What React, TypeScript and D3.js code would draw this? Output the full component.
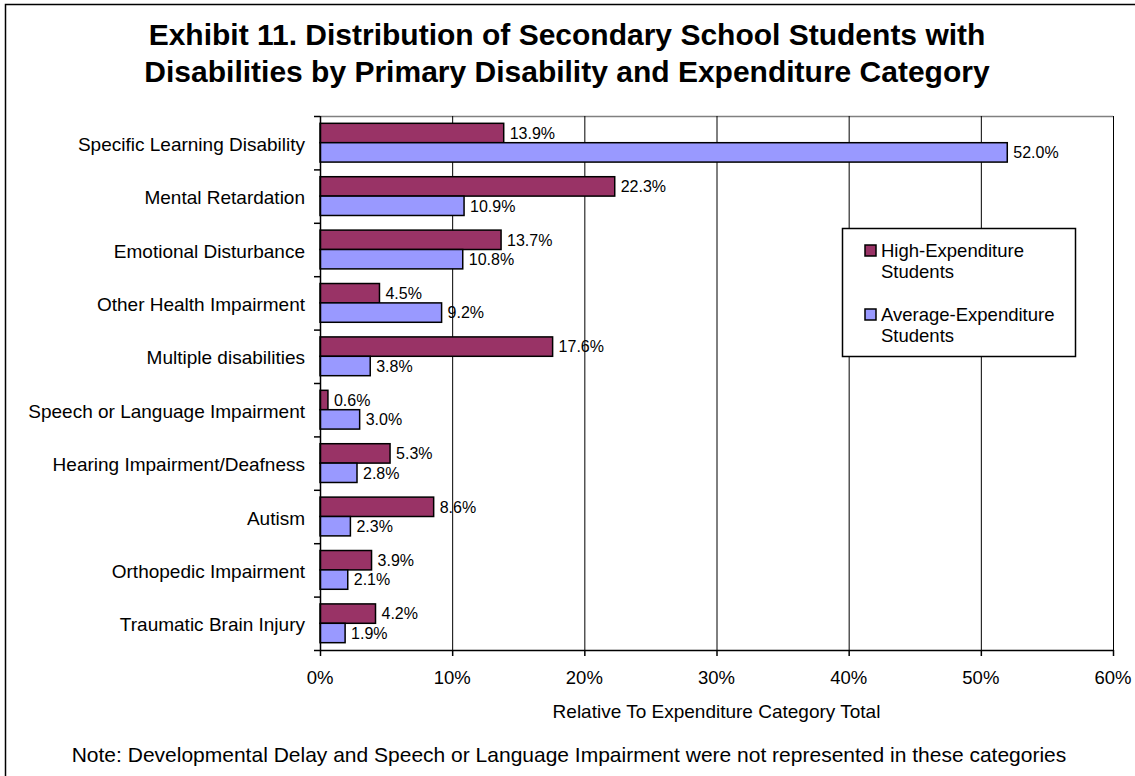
import React from "react";
import * as d3 from "d3";

const categories = [
  "Specific Learning Disability",
  "Mental Retardation",
  "Emotional Disturbance",
  "Other Health Impairment",
  "Multiple disabilities",
  "Speech or Language Impairment",
  "Hearing Impairment/Deafness",
  "Autism",
  "Orthopedic Impairment",
  "Traumatic Brain Injury",
];
const highValues = [13.9, 22.3, 13.7, 4.5, 17.6, 0.6, 5.3, 8.6, 3.9, 4.2];
const avgValues = [52.0, 10.9, 10.8, 9.2, 3.8, 3.0, 2.8, 2.3, 2.1, 1.9];
const xTicks = [0, 10, 20, 30, 40, 50, 60];
const seriesNames = ["High-Expenditure Students", "Average-Expenditure Students"];
const seriesColors = ["#993366", "#9999FF"];

const W = 1135;
const H = 776;
const plot = { left: 320, right: 1113, top: 116, bottom: 650 };
const FONT = "Arial, 'Liberation Sans', Helvetica, sans-serif";

export default function App() {
  const x = d3.scaleLinear().domain([0, 60]).range([plot.left, plot.right]);
  const y = d3
    .scaleBand<string>()
    .domain(categories)
    .range([plot.top, plot.bottom])
    .paddingInner(0)
    .paddingOuter(0);
  const bw = y.bandwidth();
  const pad = bw * 0.137;
  const barH = (bw - 2 * pad) / 2;

  const series = [highValues, avgValues];

  return (
    <svg
      width={W}
      height={H}
      style={{ position: "absolute", left: 0, top: 0, display: "block" }}
      fontFamily={FONT}
    >
      <rect x={0} y={0} width={W} height={H} fill="#fff" />
      <rect x={5.5} y={4.5} width={W + 20} height={H + 20} fill="none" stroke="#000" strokeWidth={1.5} />

      {/* Title */}
      <text x={567} y={45} textAnchor="middle" fontSize={30} fontWeight="bold" fill="#000">
        Exhibit 11. Distribution of Secondary School Students with
      </text>
      <text x={567} y={82} textAnchor="middle" fontSize={30} fontWeight="bold" fill="#000">
        Disabilities by Primary Disability and Expenditure Category
      </text>

      {/* Plot frame */}
      <line x1={plot.left} x2={plot.right} y1={plot.top + 0.5} y2={plot.top + 0.5} stroke="#808080" strokeWidth={1.5} />
      {/* Gridlines */}
      {xTicks.slice(1).map((t) => (
        <line key={"g" + t} x1={x(t) + 0.5} x2={x(t) + 0.5} y1={plot.top} y2={plot.bottom} stroke="#000" strokeWidth={1} />
      ))}

      {/* Bars */}
      {categories.map((c, i) => (
        <g key={c}>
          {series.map((vals, s) => {
            const y0 = (y(c) as number) + pad + s * barH;
            return (
              <g key={s}>
                <rect
                  x={x(0)}
                  y={y0}
                  width={x(vals[i]) - x(0)}
                  height={barH}
                  fill={seriesColors[s]}
                  stroke="#000"
                  strokeWidth={1.5}
                />
                <text
                  x={x(vals[i]) + 6}
                  y={y0 + barH / 2}
                  dy="0.36em"
                  fontSize={16}
                  fill="#000"
                >
                  {vals[i].toFixed(1)}%
                </text>
              </g>
            );
          })}
        </g>
      ))}

      {/* Axes */}
      <line x1={plot.left + 0.5} x2={plot.left + 0.5} y1={plot.top} y2={plot.bottom} stroke="#000" strokeWidth={1.5} />
      <line x1={plot.left - 6} x2={plot.right} y1={plot.bottom + 0.5} y2={plot.bottom + 0.5} stroke="#000" strokeWidth={1.5} />
      {categories.map((c, i) => (
        <line
          key={"yt" + i}
          x1={plot.left - 6}
          x2={plot.left}
          y1={(y(c) as number) + 0.5}
          y2={(y(c) as number) + 0.5}
          stroke="#000"
          strokeWidth={1.5}
        />
      ))}
      {xTicks.map((t) => (
        <g key={"xt" + t}>
          <line x1={x(t) + 0.5} x2={x(t) + 0.5} y1={plot.bottom} y2={plot.bottom + 6} stroke="#000" strokeWidth={1.5} />
          <text x={x(t)} y={678} dy="0.35em" textAnchor="middle" fontSize={18.5} fill="#000">
            {t}%
          </text>
        </g>
      ))}

      {/* Category labels */}
      {categories.map((c) => (
        <text
          key={"cl" + c}
          x={305}
          y={(y(c) as number) + bw / 2 + 1.5}
          dy="0.35em"
          textAnchor="end"
          fontSize={19}
          fill="#000"
        >
          {c}
        </text>
      ))}

      {/* Axis title */}
      <text x={(plot.left + plot.right) / 2} y={711} dy="0.35em" textAnchor="middle" fontSize={19} fill="#000">
        Relative To Expenditure Category Total
      </text>

      {/* Note */}
      <text x={569} y={755} dy="0.35em" textAnchor="middle" fontSize={21} fill="#000">
        Note: Developmental Delay and Speech or Language Impairment were not represented in these categories
      </text>

      {/* Legend */}
      <rect x={842.5} y={228.5} width={233} height={128} fill="#fff" stroke="#000" strokeWidth={1.5} />
      {seriesNames.map((name, s) => {
        const words = name.split(" ");
        const baseY = 251 + s * 64;
        return (
          <g key={"lg" + s}>
            <rect x={865} y={baseY - 6} width={11} height={11} fill={seriesColors[s]} stroke="#000" strokeWidth={1.5} />
            <text x={881} y={baseY} dy="0.35em" fontSize={18.5} fill="#000">
              {words[0]}
            </text>
            <text x={881} y={baseY + 21} dy="0.35em" fontSize={18.5} fill="#000">
              {words[1]}
            </text>
          </g>
        );
      })}
    </svg>
  );
}
